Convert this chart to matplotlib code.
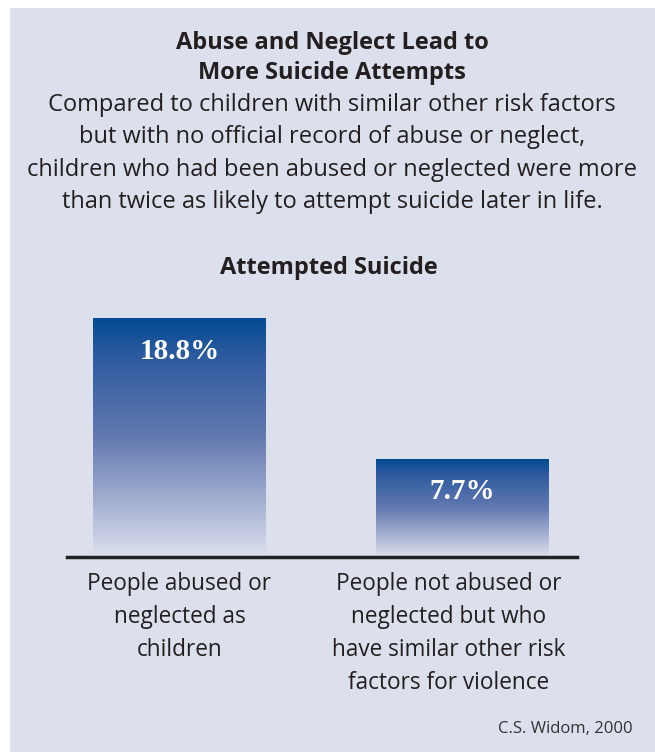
import matplotlib.pyplot as plt
import numpy as np
from matplotlib.colors import LinearSegmentedColormap
from matplotlib.patches import Rectangle

# data
categories = ['People abused or\nneglected as\nchildren',
              'People not abused or\nneglected but who\nhave similar other risk\nfactors for violence']
values = [18.8, 7.7]
value_labels = ['18.8%', '7.7%']

title_lines = ['Abuse and Neglect Lead to', 'More Suicide Attempts']
body_lines = ['Compared to children with similar other risk factors',
              'but with no official record of abuse or neglect,',
              'children who had been abused or neglected were more',
              'than twice as likely to attempt suicide later in life.']
chart_title = 'Attempted Suicide'
source = 'C.S. Widom, 2000'

plt.rcParams['font.family'] = ['Open Sans', 'DejaVu Sans']
txt = '#231f20'
bg = '#dcdfec'
W, H = 655, 752

fig = plt.figure(figsize=(W / 100, H / 100), dpi=100)
fig.patch.set_facecolor('white')
fig.patches.append(Rectangle((10 / W, 0), 1, 1 - 8 / H, transform=fig.transFigure,
                             facecolor=bg, edgecolor='none', zorder=-5))

def fy(py):
  return 1 - py / H

for i, line in enumerate(title_lines):
  fig.text(332 / W, fy(43 + 30 * i), line, ha='center', va='center',
           fontsize=17, fontweight='bold', color=txt)
for i, line in enumerate(body_lines):
  fig.text(332 / W, fy(105 + 32.3 * i), line, ha='center', va='center',
           fontsize=17, color=txt)
fig.text(329 / W, fy(268), chart_title, ha='center', va='center',
         fontsize=17, fontweight='bold', color=txt)
fig.text(633 / W, fy(729), source, ha='right', va='center', fontsize=12, color='#333333')

ax = fig.add_axes([67 / W, fy(557), 510 / W, 257 / H])
ax.patch.set_alpha(0)

cmap = LinearSegmentedColormap.from_list('bar', [(0, '#dde0ee'), (0.5, '#6379b0'),
                                                  (0.85, '#2c5a9f'), (1, '#004b93')])
grad = np.linspace(0, 1, 256).reshape(-1, 1)
xs = np.arange(len(values))
bw = 0.608
for x, v, lab in zip(xs, values, value_labels):
  ax.imshow(grad, extent=[x - bw / 2, x + bw / 2, 0, v], origin='lower',
            cmap=cmap, aspect='auto', zorder=2)
  ax.text(x, v - 2.55, lab, ha='center', va='center', color='white',
          fontsize=21, fontweight='bold', family=['Liberation Serif', 'DejaVu Serif'], zorder=3)

ax.set_xlim(-0.3975, 1.4046)
ax.set_ylim(0, 20.3)
for s in ['top', 'right', 'left']:
  ax.spines[s].set_visible(False)
ax.spines['bottom'].set_linewidth(2.5)
ax.spines['bottom'].set_color('#222222')
ax.set_yticks([])
ax.set_xticks([])

label_x = [0.0, 0.95]
for x, c in zip(label_x, categories):
  ax.text(x, -1.2, c, ha='center', va='top', fontsize=16.3, color=txt,
          linespacing=1.5, transform=ax.transData)

fig.savefig('out.png', dpi=100)
